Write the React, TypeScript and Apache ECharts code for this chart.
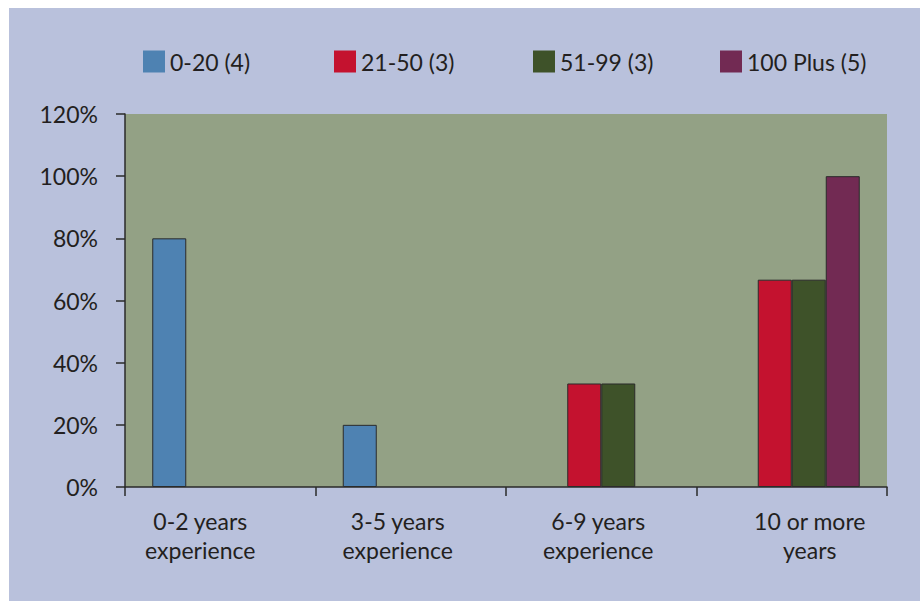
import React, { useEffect, useRef } from "react";
import * as echarts from "echarts";

const categories = ["0-2 years\nexperience", "3-5 years\nexperience", "6-9 years\nexperience", "10 or more\nyears"];
const seriesNames = ["0-20 (4)", "21-50 (3)", "51-99 (3)", "100 Plus (5)"];
const values0to20 = [80, 20, 0, 0];
const values21to50 = [0, 0, 33.3, 66.7];
const values51to99 = [0, 0, 33.3, 66.7];
const values100plus = [0, 0, 0, 100];
const seriesColors = ["#4e82b2", "#c4122f", "#3e5229", "#722a53"];
const yTicks = { min: 0, max: 120, interval: 20 };
const legendLefts = [134, 325, 524, 711];
// horizontal shift of each category label (reference labels are not centred on their category)
const labelShifts = [-20, -13, -3, 18];

const FONT = "Lato, 'Noto Sans', sans-serif";
const TEXT = "#231f20";

export default function App() {
  const ref = useRef<HTMLDivElement>(null);
  useEffect(() => {
    if (!ref.current) return;
    const chart = echarts.init(ref.current, null, { renderer: "svg" });
    const allValues = [values0to20, values21to50, values51to99, values100plus];
    chart.setOption({
      animation: false,
      textStyle: { fontFamily: FONT },
      legend: seriesNames.map((n, i) => ({
        data: [n],
        left: legendLefts[i],
        top: 42,
        padding: 0,
        itemWidth: 22,
        itemHeight: 22,
        itemGap: 6,
        icon: "rect",
        itemStyle: { borderWidth: 0 },
        textStyle: { fontSize: 23, color: TEXT, fontFamily: FONT },
      })),
      grid: {
        left: 116,
        top: 106,
        right: 33,
        bottom: 114,
        show: true,
        backgroundColor: "#93a185",
        borderWidth: 0,
      },
      xAxis: {
        type: "category",
        data: categories.map((c, i) => ({
          value: c,
          textStyle: {
            padding: labelShifts[i] < 0 ? [0, -2 * labelShifts[i], 0, 0] : [0, 0, 0, 2 * labelShifts[i]],
          },
        })),
        axisLine: { lineStyle: { color: "#2a2a2a", width: 1.5 } },
        axisTick: { show: true, alignWithLabel: false, length: 9, lineStyle: { color: "#2a2a2a", width: 1.5 } },
        axisLabel: { color: TEXT, fontSize: 23, lineHeight: 29, margin: 19, fontFamily: FONT },
      },
      yAxis: {
        type: "value",
        min: yTicks.min,
        max: yTicks.max,
        interval: yTicks.interval,
        splitLine: { show: false },
        axisLine: { show: true, lineStyle: { color: "#2a2a2a", width: 1.5 } },
        axisTick: { show: true, length: 9, lineStyle: { color: "#2a2a2a", width: 1.5 } },
        axisLabel: { color: TEXT, fontSize: 23, margin: 27, formatter: "{value}%", fontFamily: FONT },
      },
      series: seriesNames.map((n, i) => ({
        name: n,
        type: "bar",
        data: allValues[i].map((v) => (v === 0 ? null : v)),
        barWidth: 34,
        barGap: "0%",
        itemStyle: { color: seriesColors[i], borderColor: "#2b2b2b", borderWidth: 1 },
      })),
    });
    return () => chart.dispose();
  }, []);
  return (
    <div style={{ position: "absolute", left: 0, top: 0, width: 920, height: 601, background: "#ffffff" }}>
      <div
        ref={ref}
        style={{ position: "absolute", left: 9, top: 8, width: 911, height: 593, background: "#b9c1dc" }}
      />
    </div>
  );
}
